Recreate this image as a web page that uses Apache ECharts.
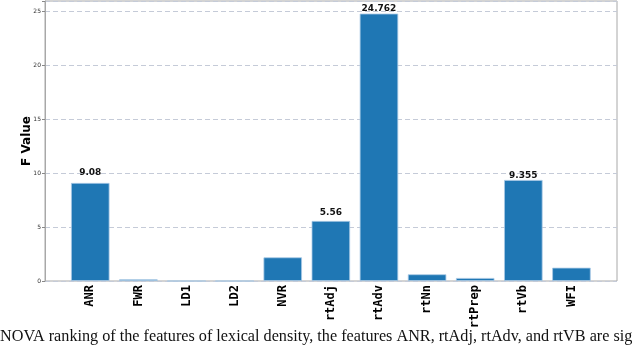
<!DOCTYPE html>
<html><head><meta charset="utf-8">
<script src="https://cdn.jsdelivr.net/npm/echarts@6/dist/echarts.min.js"></script>
<style>html,body{margin:0;padding:0;background:#fff}#c{width:640px;height:350px}</style>
</head><body><div id="c"></div>
<script>
const categories = ['ANR','FWR','LD1','LD2','NVR','rtAdj','rtAdv','rtNn','rtPrep','rtVb','WFI'];
const fValues = [9.08, 0.16, 0.0, 0.0, 2.19, 5.56, 24.762, 0.62, 0.28, 9.355, 1.23];
const labelTexts = {ANR:'9.08', rtAdj:'5.56', rtAdv:'24.762', rtVb:'9.355'};
const yTicks = [0,5,10,15,20,25];
const yMax = 25.93;
const caption = 'NOVA ranking of the features of lexical density, the features ANR, rtAdj, rtAdv, and rtVB are sig';

const labelDist = {ANR:6, rtAdj:4, rtAdv:0.5, rtVb:0};

const chart = echarts.init(document.getElementById('c'));
const barData = fValues.map((v,i)=>{
  const cat = categories[i];
  const d = {value:v};
  if (labelTexts[cat]) {
    d.label = {show:true, position:'top', distance:labelDist[cat], formatter:labelTexts[cat],
      fontSize:9, fontWeight:'bold', color:'#111', fontFamily:'DejaVu Sans'};
  }
  return d;
});
chart.setOption({
  animation:false,
  grid:[
    {left:45, right:23, top:1, bottom:69, show:true, borderColor:'#a8a8a8', borderWidth:1, backgroundColor:'transparent'},
    {left:66.2, right:44.5, top:1, bottom:69}
  ],
  xAxis:[
    {gridIndex:0, type:'value', min:0, max:1, show:false},
    {gridIndex:1, type:'category', data:categories,
      axisLine:{show:false}, axisTick:{show:false},
      axisLabel:{rotate:90, margin:4, fontSize:12, fontWeight:'bold', color:'#000', fontFamily:'DejaVu Sans Mono'}}
  ],
  yAxis:[
    {gridIndex:0, type:'value', min:0, max:yMax, interval:5,
      name:'F Value', nameLocation:'middle', nameGap:12, nameMoveOverlap:false,
      nameTextStyle:{fontSize:12, fontWeight:'bold', color:'#000', fontFamily:'DejaVu Sans'},
      axisLine:{show:true, lineStyle:{color:'#a8a8a8'}},
      axisTick:{show:true, length:3, lineStyle:{color:'#888'}},
      axisLabel:{fontSize:6, color:'#333', margin:4, fontFamily:'DejaVu Sans',
        formatter:v=> yTicks.indexOf(v)>=0 ? String(v) : ''},
      splitLine:{show:true, lineStyle:{type:[5,3], color:'#c5cbd8', width:1}}},
    {gridIndex:1, type:'value', min:0, max:yMax, show:false, splitLine:{show:false}}
  ],
  series:[{
    type:'bar', xAxisIndex:1, yAxisIndex:1, data:barData, barCategoryGap:'20%',
    itemStyle:{color:'#1f77b4', borderColor:'#a9c9e6', borderWidth:0.8}
  }],
  graphic:[{type:'text', left:0, top:329, style:{text:caption, font:'16.2px "Liberation Serif"', fill:'#111'}}]
});
</script></body></html>
